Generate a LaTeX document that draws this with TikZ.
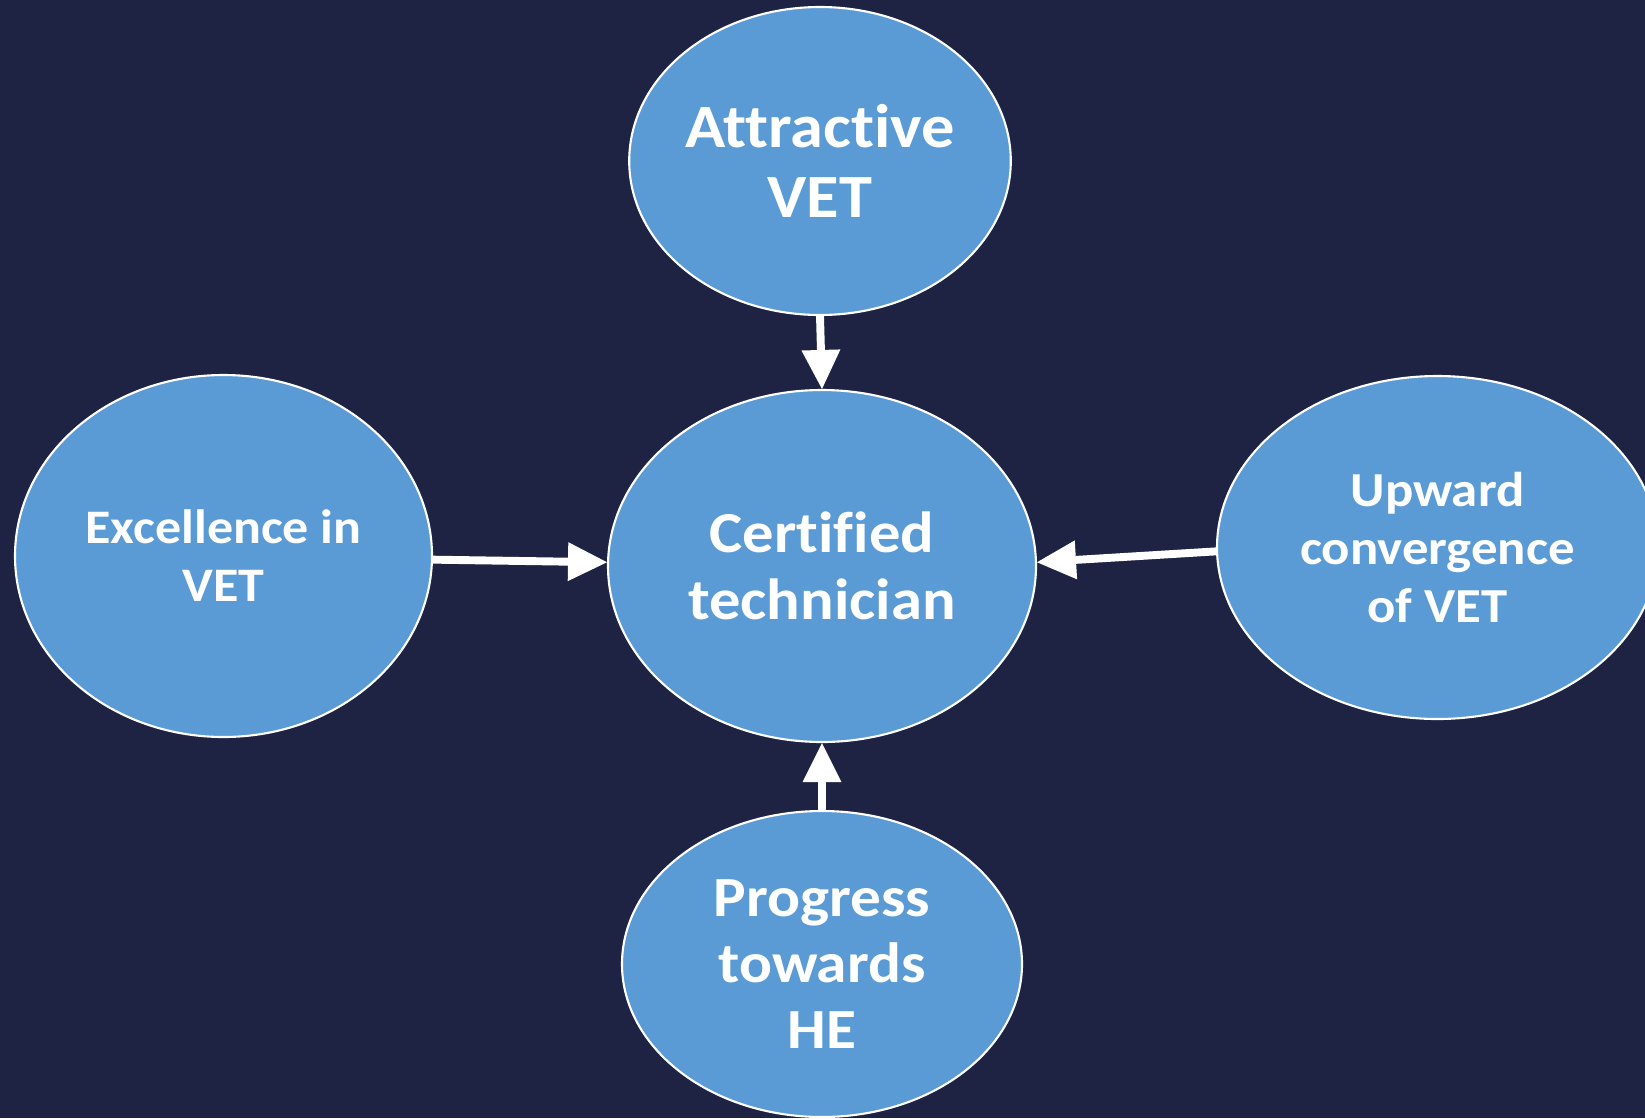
\documentclass[tikz,border=0pt]{standalone}
\usepackage{fontspec}
\setmainfont{Carlito}[Ligatures=NoCommon,FakeStretch=1.08]
\usetikzlibrary{shapes.geometric,arrows.meta}
\definecolor{navybg}{HTML}{1E2343}
\definecolor{bluefill}{HTML}{5B9BD5}
\tikzset{
  goal/.style={ellipse,draw=white,line width=1.2pt,fill=bluefill,text=white,
    align=center,inner sep=0pt,font=\bfseries},
  push/.style={draw=white,line width=4.5pt,
    -{Triangle[length=0.78cm,width=0.78cm,line width=0pt]}}
}
\begin{document}
\begin{tikzpicture}
\fill[navybg] (0,0) rectangle (32.9,-22.36);
\useasboundingbox (0,0) rectangle (32.9,-22.36);
\node[goal,minimum width=8.56cm,minimum height=7.04cm,
  font=\bfseries\fontsize{33}{38}\selectfont] (tech) at (16.44,-11.32) {Certified\\technician};
\node[goal,minimum width=7.6cm,minimum height=6.16cm,
  font=\bfseries\fontsize{35}{40}\selectfont] (attr) at (16.40,-3.22) {Attractive\\VET};
\node[goal,minimum width=8.34cm,minimum height=7.24cm,
  font=\bfseries\fontsize{27.4}{33}\selectfont] (excel) at (4.47,-11.12) {Excellence in\\VET};
\node[goal,minimum width=8.82cm,minimum height=6.86cm,
  font=\bfseries\fontsize{27.8}{33}\selectfont] (conv) at (28.75,-10.95) {Upward\\convergence\\of VET};
\node[goal,minimum width=8.0cm,minimum height=6.12cm,
  font=\bfseries\fontsize{32.3}{37.7}\selectfont] (prog) at (16.44,-19.28) {Progress\\towards\\HE};
\draw[push] (attr.south) -- (tech.north);
\draw[push] (excel.-1) -- (tech.179);
\draw[push] (conv.181) -- (tech.1);
\draw[push] (prog.north) -- (tech.south);
\end{tikzpicture}
\end{document}
